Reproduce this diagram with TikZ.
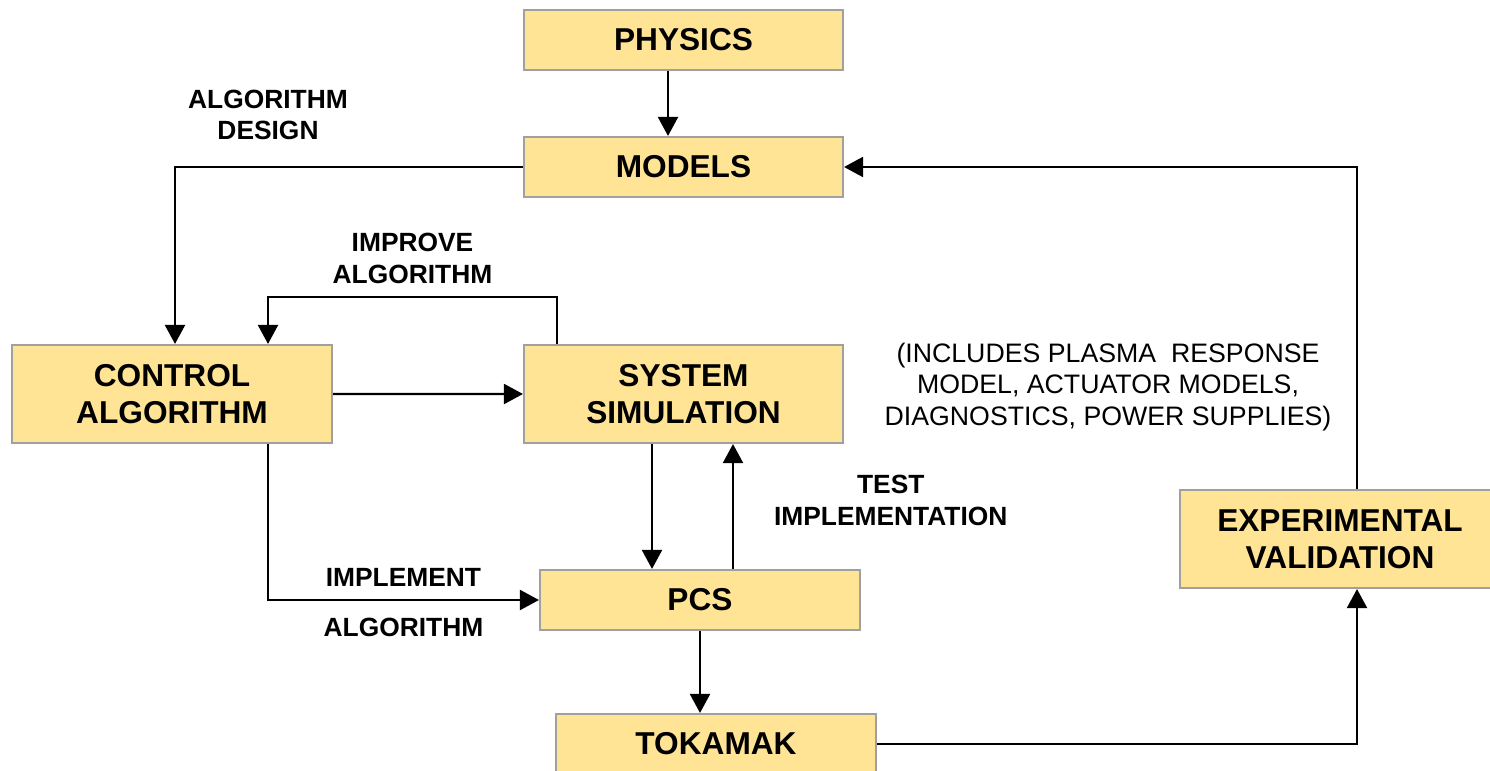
\documentclass[tikz,border=0pt]{standalone}
\usepackage{fontspec}
\setmainfont{Liberation Sans}
\usetikzlibrary{arrows.meta}
\definecolor{boxfill}{RGB}{255,228,150}
\definecolor{boxline}{RGB}{160,160,160}
\begin{document}
\begin{tikzpicture}[node distance=2cm,
	blk/.style={draw=boxline, line width=0.6pt, fill=boxfill, minimum width=3.19cm, minimum height=0.6cm, align=center, inner sep=0pt, font=\fontsize{9}{10.5}\selectfont\bfseries},
	tall/.style={blk, minimum height=0.98cm},
	lbl/.style={align=center, inner sep=2pt, font=\fontsize{7.5}{9}\selectfont\bfseries},
	>={Triangle[length=0.19cm, width=0.2cm]}, line width=0.6pt]
	\clip (0,0) rectangle (14.9,-7.71);
	\node[blk] (physics) at (6.835,-0.40) {PHYSICS};
	\node[blk] (models) [below of=physics, node distance=1.27cm] {MODELS};
	\node[tall] (system) [below of=models, node distance=2.27cm] {SYSTEM\\SIMULATION};
	\node[tall, minimum width=3.2cm] (control) at (1.72,-3.94) {CONTROL\\ALGORITHM};
	\node[blk, minimum width=3.2cm] (pcs) at (7.00,-6.00) {PCS};
	\node[blk, minimum width=3.2cm] (tokamak) at (7.16,-7.44) {TOKAMAK};
	\node[tall, minimum width=3.2cm] (expval) at (13.40,-5.39) {EXPERIMENTAL\\VALIDATION};
	\node[align=center, font=\fontsize{7.6}{8.9}\selectfont] (note) at (11.08,-3.87) {(INCLUDES PLASMA~ RESPONSE\\MODEL, ACTUATOR MODELS,\\DIAGNOSTICS, POWER SUPPLIES)};
	\draw[->] ([xshift=-0.155cm]physics.south) -- ([xshift=-0.155cm]models.north);
	\draw[->] (models.west) -| node[lbl, pos=0.5, xshift=0.93cm, yshift=0.52cm] {ALGORITHM\\DESIGN} ([xshift=0.03cm]control.north);
	\draw[->] ([xshift=-1.265cm]system.north) -- ++(0,0.47) -| node[lbl, pos=0.25, above=0.05cm] {IMPROVE\\ALGORITHM} ([xshift=0.96cm]control.north);
	\draw[->] (control.east) -- (system.west);
	\draw[->] ([xshift=0.96cm]control.south) |- node[lbl, pos=0.75, above=0.05cm] {IMPLEMENT} node[lbl, pos=0.75, below=0.1cm] {ALGORITHM} (pcs.west);
	\draw[->] ([xshift=-0.315cm]system.south) -- ([xshift=-0.48cm]pcs.north);
	\draw[->] ([xshift=0.33cm]pcs.north) -- node[lbl, pos=0.55, right=0.33cm] {TEST\\IMPLEMENTATION} ([xshift=0.495cm]system.south);
	\draw[->] (pcs.south) -- (pcs.south |- tokamak.north);
	\draw[->] (tokamak.east) -| ([xshift=0.17cm]expval.south);
	\draw[->] ([xshift=0.17cm]expval.north) |- (models.east);
\end{tikzpicture}
\end{document}
